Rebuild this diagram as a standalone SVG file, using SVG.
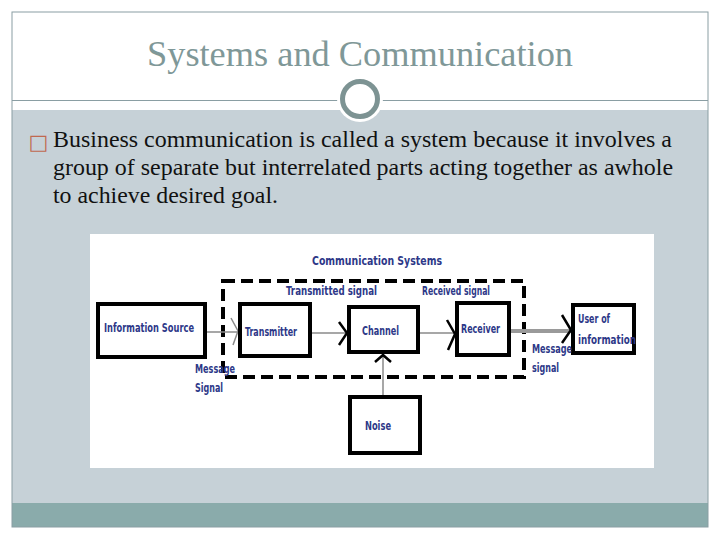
<svg xmlns="http://www.w3.org/2000/svg" width="720" height="540" viewBox="0 0 720 540">
  <style>
    .box { fill: #ffffff; stroke: #000000; stroke-width: 4; }
    .lbl { font-family: "Liberation Sans Narrow", "DejaVu Sans Condensed", "Liberation Sans", sans-serif; font-size: 12.5px; font-weight: bold; fill: #2d3888; }
    .body { font-family: "Liberation Serif", "Times New Roman", serif; font-size: 23px; fill: #111111; }
    .thin { stroke: #8a8a8a; stroke-width: 1.5; fill: none; }
    .chev { stroke: #000000; stroke-width: 2.5; fill: none; }
  </style>
  <rect x="0" y="0" width="720" height="540" fill="#ffffff"/>
  <!-- slide frame -->
  <rect x="12" y="110" width="696" height="393" fill="#c6d1d7"/>
  <rect x="12" y="503" width="696" height="24" fill="#8aabab"/>
  <rect x="12" y="12" width="696" height="515" fill="none" stroke="#8a9ea3" stroke-width="1"/>
  <line x1="12" y1="100.5" x2="708" y2="100.5" stroke="#8a9ea3" stroke-width="1.2"/>
  <text x="360" y="66" text-anchor="middle" font-family="Liberation Serif, serif" font-size="35" fill="#7f9898" textLength="426" lengthAdjust="spacingAndGlyphs">Systems and Communication</text>
  <circle cx="360" cy="99" r="23" fill="#ffffff"/>
  <circle cx="360" cy="99" r="17.5" fill="#ffffff" stroke="#7d9393" stroke-width="5"/>
  <!-- body text -->
  <text x="38.5" y="149" font-family="DejaVu Sans, sans-serif" font-size="21" fill="#c0694f" text-anchor="middle">□</text>
  <text class="body" x="53" y="147" textLength="619" lengthAdjust="spacingAndGlyphs">Business communication is called a system because it involves a</text>
  <text class="body" x="53" y="175" textLength="620" lengthAdjust="spacingAndGlyphs">group of separate but interrelated parts acting together as awhole</text>
  <text class="body" x="53" y="203" textLength="225" lengthAdjust="spacingAndGlyphs">to achieve desired goal.</text>
  <!-- diagram picture -->
  <rect x="90" y="234" width="564" height="234" fill="#ffffff"/>
  <text class="lbl" x="312" y="265" font-size="13.5" textLength="130" lengthAdjust="spacingAndGlyphs">Communication Systems</text>
  <rect x="223" y="281" width="301" height="96" fill="none" stroke="#000000" stroke-width="4" stroke-dasharray="12 6"/>
  <text class="lbl" x="286" y="295" textLength="91" lengthAdjust="spacingAndGlyphs">Transmitted signal</text>
  <text class="lbl" x="422" y="295" textLength="68" lengthAdjust="spacingAndGlyphs">Received signal</text>
  <g id="connectors">
    <line class="thin" x1="205" y1="332" x2="239" y2="332"/>
    <polyline class="thin" points="231,318 238,331 233,345"/>
    <line class="thin" x1="310" y1="333" x2="347" y2="333"/>
    <polyline class="chev" points="339,322 347,333 339,345"/>
    <line class="thin" x1="418" y1="333" x2="456" y2="333"/>
    <polyline class="chev" points="447,320 455,334 448,350"/>
    <line class="thin" x1="383" y1="397" x2="383" y2="354"/>
    <polyline class="chev" points="375,362 383,355 391,362"/>
    <line x1="509" y1="331" x2="572" y2="331" stroke="#9a9a9a" stroke-width="4"/>
    <polyline class="chev" points="562,315 571,330 562,343"/>
  </g>
  <g id="info-source">
    <rect class="box" x="98" y="304" width="107" height="53"/>
    <text class="lbl" x="104" y="332" textLength="90" lengthAdjust="spacingAndGlyphs">Information Source</text>
  </g>
  <g id="transmitter">
    <rect class="box" x="240" y="304" width="70" height="52"/>
    <text class="lbl" x="245" y="336" textLength="52" lengthAdjust="spacingAndGlyphs">Transmitter</text>
  </g>
  <g id="channel">
    <rect class="box" x="349" y="307" width="69" height="45"/>
    <text class="lbl" x="362" y="335" textLength="37" lengthAdjust="spacingAndGlyphs">Channel</text>
  </g>
  <g id="receiver">
    <rect class="box" x="457" y="303" width="52" height="52"/>
    <text class="lbl" x="461" y="333" textLength="39" lengthAdjust="spacingAndGlyphs">Receiver</text>
  </g>
  <g id="noise">
    <rect class="box" x="350" y="397" width="70" height="56"/>
    <text class="lbl" x="365" y="430" textLength="26" lengthAdjust="spacingAndGlyphs">Noise</text>
  </g>
  <g id="user">
    <rect class="box" x="573" y="305" width="61" height="48"/>
    <text class="lbl" x="578" y="323" textLength="32" lengthAdjust="spacingAndGlyphs">User of</text>
    <text class="lbl" x="578" y="344" textLength="58" lengthAdjust="spacingAndGlyphs">information</text>
  </g>
  <g id="labels">
    <text class="lbl" x="195" y="373" textLength="40" lengthAdjust="spacingAndGlyphs">Message</text>
    <text class="lbl" x="195" y="392" textLength="28" lengthAdjust="spacingAndGlyphs">Signal</text>
    <text class="lbl" x="532" y="353" textLength="40" lengthAdjust="spacingAndGlyphs">Message</text>
    <text class="lbl" x="532" y="372" textLength="27" lengthAdjust="spacingAndGlyphs">signal</text>
  </g>
</svg>
